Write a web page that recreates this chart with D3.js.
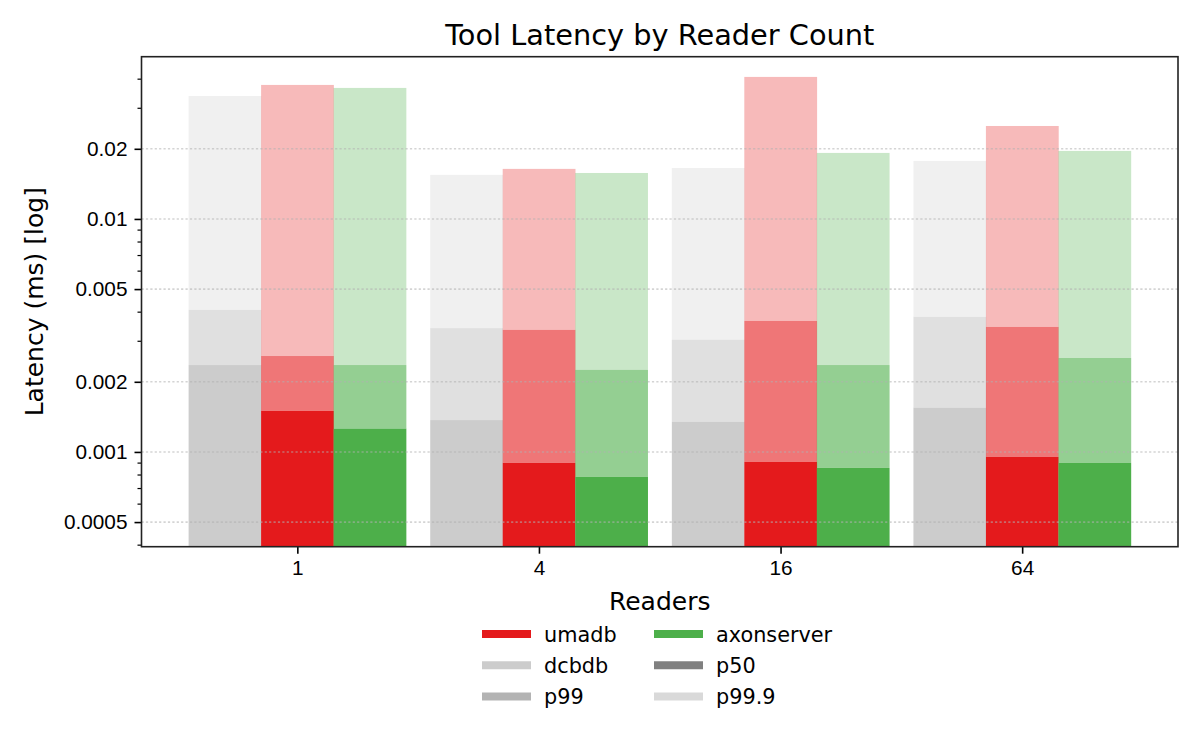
<!DOCTYPE html>
<html>
<head>
<meta charset="utf-8">
<script src="https://cdn.jsdelivr.net/npm/d3@7"></script>
<style>
  html, body { margin: 0; padding: 0; background: #fff; }
  svg { display: block; font-family: "DejaVu Sans", sans-serif; }
</style>
</head>
<body>
<div id="chart"></div>
<script>
// ── data (ms) ───────────────────────────────────────────────────
const readers = ['1', '4', '16', '64']
const systems = ['dcbdb', 'umadb', 'axonserver']

const dcbdbP50  = [0.00236, 0.00137, 0.00135, 0.00155]
const dcbdbP99  = [0.00407, 0.00340, 0.00303, 0.00380]
const dcbdbP999 = [0.0337, 0.01545, 0.01655, 0.01774]

const umadbP50  = [0.00150, 0.000897, 0.000906, 0.000952]
const umadbP99  = [0.00258, 0.00334, 0.00365, 0.00344]
const umadbP999 = [0.0376, 0.0164, 0.0407, 0.02506]

const axonP50  = [0.00126, 0.000781, 0.000854, 0.000897]
const axonP99  = [0.00236, 0.00225, 0.00236, 0.00253]
const axonP999 = [0.0365, 0.01575, 0.0192, 0.01959]

const yTickValues = [0.0005, 0.001, 0.002, 0.005, 0.01, 0.02]
const yTickLabels = ['0.0005', '0.001', '0.002', '0.005', '0.01', '0.02']

const COLORS = { dcbdb: '#cccccc', umadb: '#e41a1c', axonserver: '#4daf4a' }
const PCT_ALPHA = { p50: 1, p99: 0.6, 'p99.9': 0.3 }

const series = {
  dcbdb:      { p50: dcbdbP50, p99: dcbdbP99, p999: dcbdbP999 },
  umadb:      { p50: umadbP50, p99: umadbP99, p999: umadbP999 },
  axonserver: { p50: axonP50,  p99: axonP99,  p999: axonP999 },
}

const legendItems = [
  { label: 'umadb',      color: '#e41a1c' },
  { label: 'dcbdb',      color: '#cccccc' },
  { label: 'p99',        color: '#b3b3b3' },
  { label: 'axonserver', color: '#4daf4a' },
  { label: 'p50',        color: '#808080' },
  { label: 'p99.9',      color: '#d9d9d9' },
]

// ── layout ──────────────────────────────────────────────────────
const WIDTH = 1200, HEIGHT = 750
const PLOT = { left: 141.5, right: 1178, top: 56.7, bottom: 546.7 }
const BAR_W = 0.3

const svg = d3.select('#chart').append('svg')
  .attr('width', WIDTH).attr('height', HEIGHT)

const x = d3.scaleLinear().domain([-0.645, readers.length - 1 + 0.645]).range([PLOT.left, PLOT.right])
const y = d3.scaleLog().domain([0.000392, 0.0497]).range([PLOT.bottom, PLOT.top])

svg.append('defs').append('clipPath').attr('id', 'plot-clip')
  .append('rect')
  .attr('x', PLOT.left).attr('y', PLOT.top)
  .attr('width', PLOT.right - PLOT.left).attr('height', PLOT.bottom - PLOT.top)

// ── bars: p50 bottom, then p99 and p99.9 segments ───────────────
const rows = []
readers.forEach((r, i) => {
  systems.forEach((s, j) => {
    const d = series[s]
    const cx = i + (j - 1) * BAR_W
    rows.push({ cx, lo: null, hi: d.p50[i], color: COLORS[s], alpha: PCT_ALPHA.p50 })
    rows.push({ cx, lo: d.p50[i], hi: d.p99[i], color: COLORS[s], alpha: PCT_ALPHA.p99 })
    rows.push({ cx, lo: d.p99[i], hi: d.p999[i], color: COLORS[s], alpha: PCT_ALPHA['p99.9'] })
  })
})

const gBars = svg.append('g').attr('clip-path', 'url(#plot-clip)')
gBars.selectAll('rect').data(rows).enter().append('rect')
  .attr('x', d => x(d.cx - BAR_W / 2))
  .attr('width', d => x(d.cx + BAR_W / 2) - x(d.cx - BAR_W / 2) + 0.3)
  .attr('y', d => y(d.hi))
  .attr('height', d => (d.lo == null ? PLOT.bottom + 2 : y(d.lo)) - y(d.hi))
  .attr('fill', d => d.color)
  .attr('fill-opacity', d => d.alpha)

// ── grid (dotted, major only) ───────────────────────────────────
svg.append('g').selectAll('line').data(yTickValues).enter().append('line')
  .attr('x1', PLOT.left).attr('x2', PLOT.right)
  .attr('y1', d => y(d)).attr('y2', d => y(d))
  .attr('stroke', '#b0b0b0').attr('stroke-opacity', 0.55)
  .attr('stroke-width', 1.6).attr('stroke-dasharray', '2.2 2.2')

// ── axes ────────────────────────────────────────────────────────
const minorTicks = y.ticks().filter(v => !yTickValues.some(t => Math.abs(t - v) / t < 1e-6))

const gY = svg.append('g').attr('transform', `translate(${PLOT.left},0)`)
gY.call(d3.axisLeft(y).tickValues(yTickValues)
  .tickFormat((d, i) => yTickLabels[i]).tickSize(7).tickPadding(7))
gY.select('.domain').remove()
gY.selectAll('.tick line').attr('stroke', '#000').attr('stroke-width', 1.6)
gY.selectAll('.tick text').style('font-size', '20.8px').attr('fill', '#000')

const gYMinor = svg.append('g').attr('transform', `translate(${PLOT.left},0)`)
gYMinor.call(d3.axisLeft(y).tickValues(minorTicks).tickFormat('').tickSize(4))
gYMinor.select('.domain').remove()
gYMinor.selectAll('.tick line').attr('stroke', '#000').attr('stroke-width', 1.2)

const gX = svg.append('g').attr('transform', `translate(0,${PLOT.bottom})`)
gX.call(d3.axisBottom(x).tickValues(d3.range(readers.length))
  .tickFormat(i => readers[i]).tickSize(7).tickPadding(7))
gX.select('.domain').remove()
gX.selectAll('.tick line').attr('stroke', '#000').attr('stroke-width', 1.6)
gX.selectAll('.tick text').style('font-size', '20.8px').attr('fill', '#000')

// frame
svg.append('rect')
  .attr('x', PLOT.left).attr('y', PLOT.top)
  .attr('width', PLOT.right - PLOT.left).attr('height', PLOT.bottom - PLOT.top)
  .attr('fill', 'none').attr('stroke', '#222').attr('stroke-width', 1.6)

// ── titles ──────────────────────────────────────────────────────
svg.append('text')
  .attr('x', (PLOT.left + PLOT.right) / 2).attr('y', 45)
  .attr('text-anchor', 'middle').style('font-size', '28.8px')
  .text('Tool Latency by Reader Count')

svg.append('text')
  .attr('transform', `translate(42.5,${(PLOT.top + PLOT.bottom) / 2}) rotate(-90)`)
  .attr('text-anchor', 'middle').style('font-size', '25px')
  .text('Latency (ms) [log]')

svg.append('text')
  .attr('x', (PLOT.left + PLOT.right) / 2).attr('y', 610)
  .attr('text-anchor', 'middle').style('font-size', '25px')
  .text('Readers')

// ── legend ──────────────────────────────────────────────────────
const gLegend = svg.append('g').attr('transform', 'translate(482,634)')
legendItems.forEach((item, i) => {
  const col = Math.floor(i / 3), row = i % 3
  const g = gLegend.append('g').attr('transform', `translate(${col * 172},${row * 31.3})`)
  g.append('line').attr('x1', 0).attr('x2', 49).attr('y1', 0).attr('y2', 0)
    .attr('stroke', item.color).attr('stroke-width', 8)
  g.append('text').attr('x', 62).attr('y', 7.5).style('font-size', '20.8px').text(item.label)
})
</script>
</body>
</html>
